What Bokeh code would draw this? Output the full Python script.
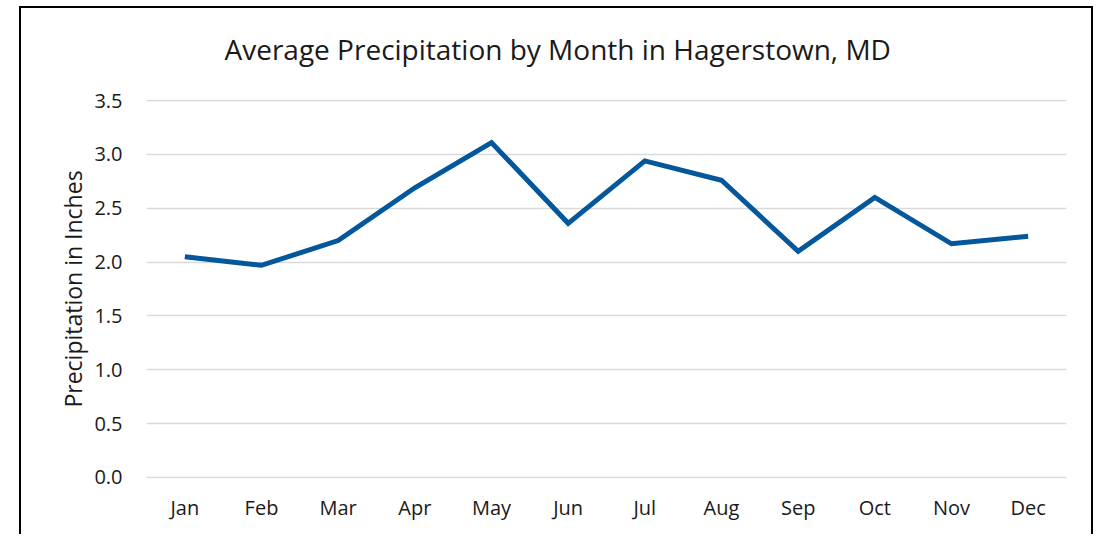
from bokeh.plotting import figure
from bokeh.layouts import column
from bokeh.models import Range1d, FactorRange, SingleIntervalTicker, NumeralTickFormatter
from bokeh.embed import file_html
from bokeh.resources import INLINE

months = ["Jan", "Feb", "Mar", "Apr", "May", "Jun", "Jul", "Aug", "Sep", "Oct", "Nov", "Dec"]
precip = [2.05, 1.97, 2.20, 2.69, 3.11, 2.36, 2.94, 2.76, 2.10, 2.60, 2.17, 2.24]

FONT = "Open Sans"
TXT = "#1a1a1a"

p = figure(x_range=FactorRange(*months, range_padding=0), y_range=Range1d(-0.01, 3.51),
           width=1070, height=539, output_backend="svg", toolbar_location=None,
           title="Average Precipitation by Month in Hagerstown, MD",
           min_border_left=125, min_border_right=25, min_border_top=104, min_border_bottom=56)
p.styles = {"margin-top": "-13px"}

p.title.text_font = FONT
p.title.text_font_size = "28px"
p.title.text_font_style = "normal"
p.title.text_color = TXT
p.title.align = "left"
p.title.offset = 78
p.title.standoff = 63

p.line(x=months, y=precip, line_color="#03579a", line_width=5, line_join="miter")

p.outline_line_color = None
p.xgrid.grid_line_color = None
p.ygrid.grid_line_color = "#d9d9d9"
p.ygrid.grid_line_width = 1.5
p.yaxis.ticker = SingleIntervalTicker(interval=0.5)
p.yaxis.formatter = NumeralTickFormatter(format="0.0")

for ax in (p.xaxis[0], p.yaxis[0]):
    ax.axis_line_color = None
    ax.major_tick_line_color = None
    ax.minor_tick_line_color = None
    ax.major_label_text_font = FONT
    ax.major_label_text_font_size = "20px"
    ax.major_label_text_color = TXT

p.xaxis.major_label_standoff = 9
p.yaxis.major_label_standoff = 18
p.yaxis.axis_label = "Precipitation in Inches"
p.yaxis.axis_label_text_font = FONT
p.yaxis.axis_label_text_font_size = "23px"
p.yaxis.axis_label_text_font_style = "normal"
p.yaxis.axis_label_text_color = TXT
p.yaxis.axis_label_standoff = 2

layout = column(p, styles={"border": "2px solid black", "border-bottom": "none",
                           "margin-left": "19px", "margin-top": "6px", "overflow": "hidden"})

open("out.html", "w").write(file_html(layout, INLINE))
